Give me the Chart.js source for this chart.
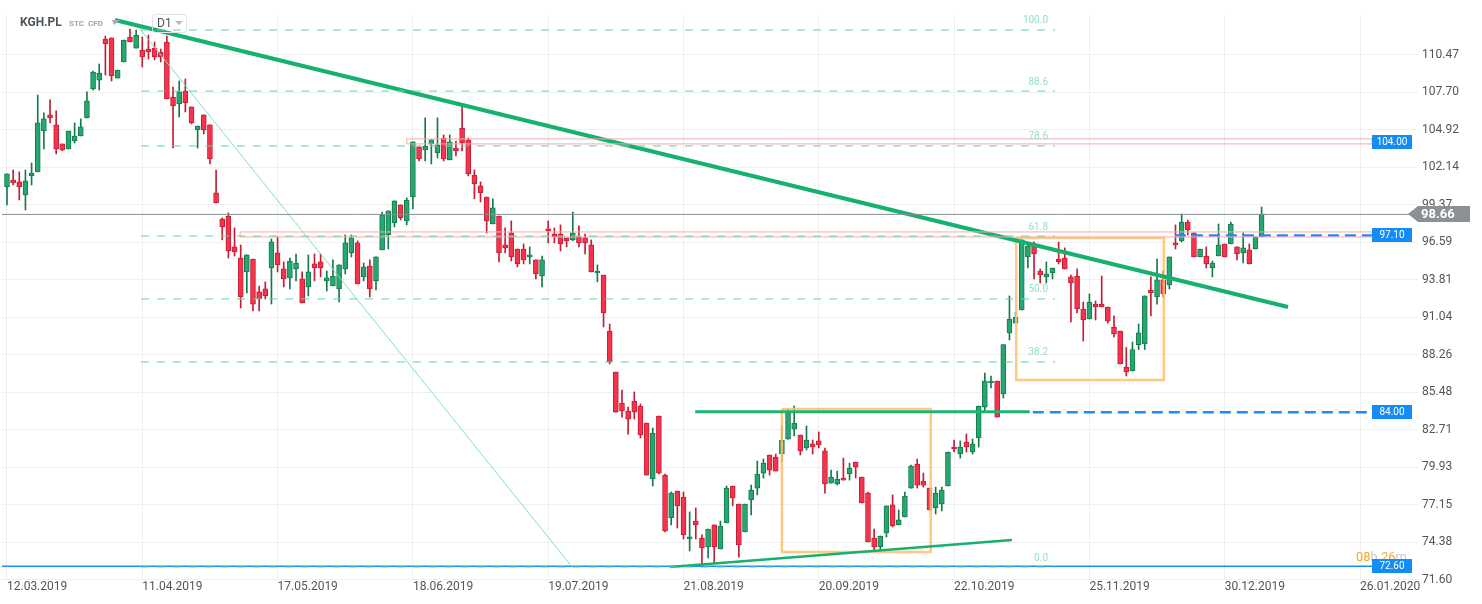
<!DOCTYPE html>
<html>
<head>
<meta charset="utf-8">
<script src="https://cdn.jsdelivr.net/npm/chart.js@4.4.1/dist/chart.umd.min.js"></script>
<style>
  html, body { margin: 0; padding: 0; background: #fff; }
  #wrap { width: 1482px; height: 604px; }
</style>
</head>
<body>
<div id="wrap"><canvas id="grafica" width="1482" height="604"></canvas></div>
<script>
// daily candles KGH.PL (D1), one entry per session
const opens = [100.70,101.21,101.07,100.11,101.51,101.81,104.84,106.03,105.29,103.88,
  103.51,104.10,104.47,105.81,107.95,108.61,111.65,111.73,108.76,109.95,
  111.80,110.98,110.84,110.91,110.98,110.69,111.43,107.35,106.84,107.80,
  106.62,104.92,106.03,105.29,100.25,98.32,98.54,96.25,95.43,94.40,
  95.36,92.92,93.14,94.69,95.81,94.62,93.96,94.62,93.88,93.29,
  94.99,95.14,93.73,93.36,93.14,94.62,95.81,96.55,94.03,94.84,
  93.73,96.03,97.14,98.03,99.36,98.18,99.95,103.66,103.44,103.88,
  103.21,104.32,102.70,103.58,105.06,104.18,101.58,100.77,99.95,97.95,
  98.54,96.40,97.29,96.10,96.10,95.51,95.29,94.10,97.58,97.21,
  97.21,96.92,96.77,96.99,96.92,96.40,94.32,94.17,90.02,86.99,
  84.69,84.10,84.84,84.47,83.21,79.06,83.73,79.35,76.18,78.17,
  77.73,74.62,75.95,74.69,74.03,75.66,73.88,75.81,78.54,77.21,
  75.14,77.51,78.39,79.50,80.84,80.69,80.91,82.02,82.76,82.32,
  81.36,81.66,81.88,81.14,78.76,78.69,79.13,79.43,80.32,79.21,
  78.02,74.69,74.03,75.06,77.14,75.66,76.25,78.39,80.17,78.91,
  78.39,76.92,77.21,78.54,81.43,80.91,81.80,81.06,82.10,84.39,
  86.17,86.32,85.36,89.88,90.61,91.58,95.51,96.40,94.47,94.03,
  94.32,95.36,95.43,94.03,94.10,91.65,90.91,92.02,92.02,91.80,
  90.32,90.02,87.36,87.06,89.02,89.06,93.06,92.54,93.81,93.44,
  96.55,96.70,98.10,97.29,95.51,95.58,94.69,95.58,96.47,96.47,
  96.25,95.81,96.03,96.10,96.99];
const highs = [101.66,101.95,101.81,101.95,102.47,107.50,106.18,107.14,106.33,103.88,
  104.84,105.44,105.73,107.73,109.28,109.80,111.87,111.73,109.35,111.58,
  112.39,112.32,111.80,111.95,111.43,110.91,111.87,108.10,108.54,108.69,
  106.62,105.21,106.03,105.29,101.95,98.40,98.77,97.66,96.40,95.66,
  95.36,93.36,93.66,96.84,96.99,95.14,95.43,95.73,94.40,95.66,
  95.73,95.73,94.47,95.29,94.92,97.14,97.14,96.70,95.06,95.29,
  95.51,98.84,98.92,99.66,99.36,99.88,104.03,103.66,105.81,104.18,
  105.81,104.55,104.55,104.10,106.62,104.32,101.95,101.07,99.95,99.81,
  98.54,97.66,98.18,96.10,96.47,96.25,95.29,95.58,98.18,97.66,
  97.88,96.92,98.84,97.81,97.21,96.77,94.92,94.17,90.54,86.99,
  85.65,84.39,85.51,84.62,83.21,82.84,83.73,79.43,78.10,78.17,
  78.10,76.62,76.92,74.92,75.36,75.66,75.95,78.54,78.54,77.21,
  77.21,78.61,80.39,80.54,80.84,80.91,82.99,84.25,84.47,82.32,
  82.99,81.95,82.54,81.36,79.72,79.65,80.61,80.24,80.32,79.21,
  78.10,75.36,74.84,77.07,77.88,76.77,78.10,80.09,80.54,79.50,
  78.39,78.46,78.46,81.06,81.95,81.88,82.39,82.02,84.47,86.91,
  86.69,86.32,89.02,92.62,91.43,96.77,96.55,96.62,94.62,95.14,
  94.69,96.62,96.18,94.17,94.62,92.17,92.77,92.25,94.10,91.80,
  91.14,90.02,88.80,89.21,90.54,92.62,94.03,95.36,94.47,95.51,
  97.88,98.69,98.25,97.29,96.10,96.25,95.21,97.95,96.47,98.10,
  96.25,97.29,96.47,96.99,99.21];
const lows = [99.36,100.84,99.73,98.99,100.84,101.81,103.51,105.44,103.14,103.37,
  103.51,103.95,104.47,105.81,107.87,107.87,108.98,108.54,108.76,109.95,
  111.43,110.98,109.58,110.17,110.10,109.95,107.21,103.58,105.88,106.25,
  105.36,103.58,104.62,102.40,99.51,96.77,95.43,95.58,91.73,92.84,
  91.51,91.51,92.40,92.02,94.40,93.29,93.14,93.73,92.10,92.62,
  93.73,94.03,92.99,93.36,92.17,94.25,95.51,93.51,93.73,92.54,
  93.06,96.03,96.10,97.73,98.25,97.88,99.06,102.62,102.62,102.40,
  102.84,102.62,102.70,102.99,103.37,101.51,99.81,99.58,97.29,97.95,
  95.14,95.81,95.21,94.77,94.99,94.99,93.88,93.29,96.55,96.55,
  95.95,96.25,96.70,96.25,95.73,94.40,93.66,90.32,87.58,84.02,
  83.65,82.39,83.50,82.10,79.35,78.54,79.43,75.14,75.66,75.43,
  74.62,73.73,74.62,72.54,73.21,72.84,73.88,75.81,77.07,73.28,
  75.14,76.40,77.88,79.13,79.35,79.65,80.32,82.02,82.25,80.84,
  81.21,80.91,81.36,78.02,78.76,78.61,78.98,78.98,79.13,77.29,
  74.40,73.81,73.73,74.77,75.51,75.66,76.25,78.39,78.39,78.46,
  76.77,76.47,76.70,78.54,81.06,80.61,81.06,80.91,81.43,84.10,
  85.80,83.65,85.06,89.36,90.61,91.58,94.69,93.88,93.58,93.58,
  93.88,94.99,94.62,90.69,91.36,89.28,90.91,90.84,91.80,90.61,
  89.58,87.58,86.69,87.06,88.65,88.65,91.14,92.02,92.54,93.14,
  96.10,96.62,97.14,95.51,95.51,94.69,94.03,95.58,95.51,96.47,
  95.29,95.06,94.99,96.10,96.99];
const closes = [101.66,100.99,100.70,101.14,101.73,105.44,105.73,105.81,103.51,103.44,
  104.84,104.47,105.14,107.07,109.21,109.13,111.28,108.91,109.35,111.58,
  111.43,111.95,110.32,110.69,110.32,110.32,107.21,106.70,107.73,106.92,
  105.44,105.21,104.92,102.77,99.51,97.73,95.95,95.88,92.54,95.66,
  92.02,92.40,92.62,96.62,94.92,93.88,95.21,95.06,92.10,94.40,
  94.69,94.69,93.96,94.10,94.92,96.55,96.92,93.51,94.77,93.14,
  95.51,98.62,98.92,99.66,98.40,99.73,104.03,102.77,103.73,104.18,
  103.81,102.77,104.03,103.37,103.95,101.66,100.92,100.25,98.18,99.14,
  95.81,96.18,95.51,94.99,95.29,95.66,94.25,95.29,97.44,96.99,
  96.47,96.70,97.29,96.55,96.55,94.40,94.47,91.36,87.73,84.02,
  84.10,83.50,84.02,82.32,79.35,82.47,79.50,75.21,78.02,77.07,
  74.92,74.77,75.66,73.95,75.36,74.03,75.58,78.39,77.66,74.18,
  77.21,78.24,79.43,80.24,79.72,79.65,81.95,84.10,83.21,81.14,
  81.95,81.43,81.58,78.69,79.21,79.06,78.98,79.87,79.94,77.29,
  74.40,74.03,74.84,77.07,75.58,76.03,77.80,80.02,78.61,78.61,
  76.77,78.02,78.24,81.06,81.28,81.43,81.43,81.66,84.47,86.32,
  86.32,83.65,89.02,90.91,91.06,96.77,96.32,95.73,94.17,94.25,
  94.69,95.14,94.62,93.58,91.65,90.84,92.17,91.80,91.80,90.76,
  89.80,87.58,86.99,88.65,89.88,92.62,92.84,93.81,92.77,95.51,
  96.40,98.10,97.51,95.51,96.10,94.99,95.06,96.40,95.51,97.95,
  95.73,96.18,94.99,96.99,98.66];

// axis labels
const xLabels = ['12.03.2019','11.04.2019','17.05.2019','18.06.2019','19.07.2019','21.08.2019',
  '20.09.2019','22.10.2019','25.11.2019','30.12.2019','26.01.2020'];
const xTickIdx = [0,22,44,66,88,110,132,154,176,198,220];
const yTickLabels = ['71.60','74.38','77.15','79.93','82.71','85.48','88.26','91.04','93.81',
  '96.59','99.37','102.14','104.92','107.70','110.47'];

// drawing tools on the chart (x = candle index, y = price)
const fibNames = ['100.0','88.6','78.6','61.8','50.0','38.2','0.0'];
const fibPrices = [112.32,107.80,103.73,97.06,92.40,87.73,72.54];
const fibFrom = 21.8, fibTo = 170.4;
const mainTrend = [{x:17.56,y:113.06},{x:208.3,y:91.80}];
const thinTrend = [{x:21.6,y:112.40},{x:91.9,y:72.54}];
const riseTrend = [{x:107.8,y:72.54},{x:163.4,y:74.54}];
const resistLine = [{x:111.9,y:84.05},{x:166.3,y:84.05}];
const box1 = {x1:126.0,x2:150.2,y1:84.25,y2:73.66};
const box2 = {x1:164.1,x2:188.1,y1:96.92,y2:86.39};
const band1 = {x1:65.0,x2:222.0,y1:104.25,y2:103.88};
const band2 = {x1:37.9,x2:222.0,y1:97.36,y2:96.99};
const levelPrices = [104.00,97.10,84.00,72.60];
const levelNames = ['104.00','97.10','84.00','72.60'];
const dash971 = [{x:189.9,y:97.10},{x:222.0,y:97.10}];
const dash84 = [{x:166.8,y:84.00},{x:222.0,y:84.00}];
const line726 = [{x:-1,y:72.60},{x:222.0,y:72.60}];
const lastPrice = 98.66;

const GREEN = '#26a670', GREEN_D = '#157a4b', RED = '#f5344b', RED_D = '#c41d36';
const isUp = i => closes[i] >= opens[i];

function rect(b) {
  return [{x:b.x1,y:b.y1},{x:b.x2,y:b.y1},{x:b.x2,y:b.y2},{x:b.x1,y:b.y2},{x:b.x1,y:b.y1}];
}
function lineDs(pts, color, width, dash) {
  return { type:'line', data:pts, borderColor:color, borderWidth:width, borderDash:dash || [],
    pointRadius:0, fill:false, tension:0, order:1 };
}

const datasets = [
  { label:'wick', data: opens.map((o,i) => ({x:i, y:[lows[i], highs[i]]})),
    backgroundColor: ctx => isUp(ctx.dataIndex) ? GREEN_D : RED_D,
    barThickness:1, grouped:false, order:3 },
  { label:'body', data: opens.map((o,i) => ({x:i, y:[o, closes[i]]})),
    backgroundColor: ctx => isUp(ctx.dataIndex) ? GREEN : RED,
    borderColor: ctx => isUp(ctx.dataIndex) ? GREEN_D : RED_D,
    borderWidth:1, borderSkipped:false, minBarLength:2,
    barThickness:5, grouped:false, order:2 }
];
fibPrices.forEach(p => datasets.push(lineDs([{x:fibFrom,y:p},{x:fibTo,y:p}], '#5fd6aa', 1, [8,8])));
datasets.push(lineDs(rect(band1), '#f6aaaa', 1));
datasets.push(lineDs(rect(band2), '#f6aaaa', 1));
datasets.push(lineDs([{x:-1,y:lastPrice},{x:230,y:lastPrice}], '#8a8f93', 1));
datasets.push(lineDs(thinTrend, '#7fe0bf', 1));
datasets.push(lineDs(mainTrend, '#16b06f', 4));
datasets.push(lineDs(riseTrend, '#16b06f', 2.5));
datasets.push(lineDs(resistLine, '#20b473', 3));
datasets.push(lineDs(rect(box1), 'rgba(255,190,110,0.85)', 2.5));
datasets.push(lineDs(rect(box2), 'rgba(255,190,110,0.85)', 2.5));
datasets.push(lineDs(dash971, '#1a8cff', 2.5, [11,6]));
datasets.push(lineDs(dash84, '#1a8cff', 2.5, [11,6]));
datasets.push(lineDs(line726, '#1a8cff', 1.5));

const overlay = {
  id: 'overlay',
  afterDatasetsDraw(chart) {
    const ctx = chart.ctx, ys = chart.scales.y;
    ctx.save();
    ctx.textBaseline = 'middle';

    // fib labels
    ctx.font = '10px Roboto';
    ctx.fillStyle = '#93e2c6';
    ctx.textAlign = 'right';
    fibPrices.forEach((p, k) => ctx.fillText(fibNames[k], 1048, ys.getPixelForValue(p) - 9));

    // countdown
    ctx.textAlign = 'left';
    ctx.font = '13px Roboto';
    let cx = 1356;
    [['08','#f7a530'],['h','#c8c8c8'],[' 26','#f7a530'],['m','#c8c8c8']].forEach(([t,c]) => {
      ctx.fillStyle = c; ctx.fillText(t, cx, 558); cx += ctx.measureText(t).width;
    });

    // blue level tags
    ctx.font = '10px Roboto';
    ctx.textAlign = 'center';
    levelPrices.forEach((p, k) => {
      const y = Math.round(ys.getPixelForValue(p));
      ctx.fillStyle = '#148cf5';
      ctx.fillRect(1372, y - 7, 40, 14);
      ctx.fillStyle = '#fff';
      ctx.fillText(levelNames[k], 1392, y + 0.5);
    });

    // last price tag
    const yl = Math.round(ys.getPixelForValue(lastPrice));
    ctx.fillStyle = '#8b9094';
    ctx.beginPath();
    ctx.moveTo(1408, yl); ctx.lineTo(1418, yl - 8); ctx.lineTo(1470, yl - 8);
    ctx.lineTo(1470, yl + 8); ctx.lineTo(1418, yl + 8); ctx.closePath(); ctx.fill();
    ctx.fillStyle = '#fff';
    ctx.font = 'bold 13px Roboto';
    ctx.textAlign = 'left';
    ctx.fillText(lastPrice.toFixed(2), 1421, yl + 0.5);

    // header
    ctx.fillStyle = '#4b545c';
    ctx.font = 'bold 12px Roboto';
    ctx.fillText('KGH.PL', 20, 23);
    ctx.fillStyle = '#9ca5ad';
    ctx.font = 'bold 8px Roboto';
    ctx.fillText('STC', 69, 24);
    ctx.fillText('CFD', 88, 24);
    ctx.fillStyle = '#a6adb3';
    ctx.beginPath(); ctx.moveTo(112, 20); ctx.lineTo(120, 20); ctx.lineTo(114, 25); ctx.closePath(); ctx.fill();
    ctx.strokeStyle = '#dfe3e6';
    ctx.lineWidth = 1;
    ctx.beginPath(); ctx.roundRect(152.5, 14.5, 34, 18, 3); ctx.stroke();
    ctx.fillStyle = '#4b545c';
    ctx.font = '12px Roboto';
    ctx.fillText('D1', 157, 24);
    ctx.fillStyle = '#b4bac0';
    ctx.beginPath(); ctx.moveTo(175, 21); ctx.lineTo(183, 21); ctx.lineTo(179, 25); ctx.closePath(); ctx.fill();
    ctx.restore();
  }
};

new Chart(document.getElementById('grafica'), {
  type: 'bar',
  data: { datasets },
  plugins: [overlay],
  options: {
    responsive: false,
    animation: false,
    devicePixelRatio: 1,
    layout: { padding: { top: 15, left: 2, right: 0, bottom: 0 } },
    plugins: { legend: { display: false }, tooltip: { enabled: false } },
    scales: {
      x: {
        type: 'linear', offset: false, min: -0.81, max: 228.78,
        grid: { color: '#efefef', offset: false, drawTicks: false },
        border: { display: false },
        afterBuildTicks: s => { s.ticks = xTickIdx.map(v => ({ value: v })); },
        afterFit: s => { s.height = 24; },
        ticks: { autoSkip: false, maxRotation: 0, align: 'start', padding: 0,
          color: '#555', font: { family: 'Roboto', size: 12 },
          callback: (v, i) => xLabels[i] }
      },
      y: {
        position: 'right', beginAtZero: false, min: 71.58, max: 113.43,
        grid: { color: '#f0f0f0', tickLength: 4 },
        border: { display: false },
        afterBuildTicks: s => { s.ticks = yTickLabels.map(t => ({ value: parseFloat(t) })); },
        afterFit: s => { s.width = 68; },
        ticks: { padding: 4, color: '#555', font: { family: 'Roboto', size: 12 },
          callback: (v, i) => yTickLabels[i] }
      }
    }
  }
});
</script>
</body>
</html>
